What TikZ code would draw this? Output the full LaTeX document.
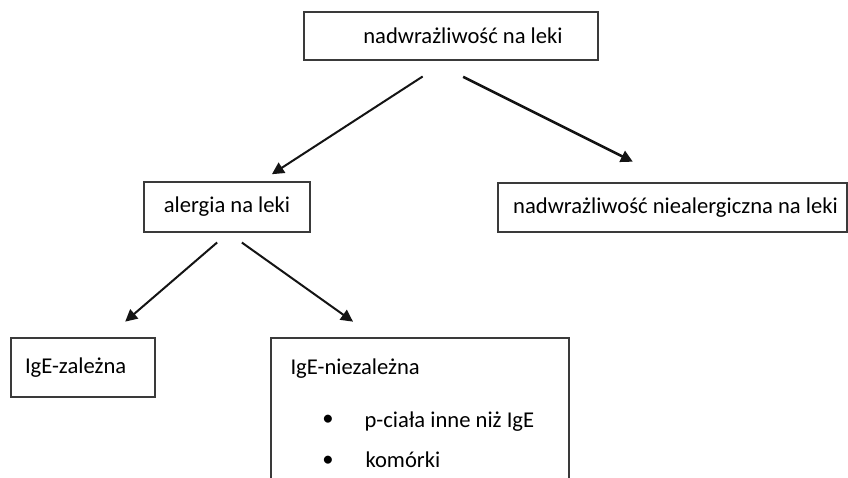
\documentclass[tikz,border=0pt]{standalone}
\usepackage{fontspec}
\setmainfont{Carlito}
\usepackage{tikz}
\usetikzlibrary{arrows.meta, positioning}
\definecolor{ink}{HTML}{141414}
\definecolor{frame}{HTML}{3A3A3A}

\begin{document}
\begin{tikzpicture}[x=1pt, y=1pt, font=\fontsize{22.6}{26}\selectfont, >={Triangle[length=12pt, width=12pt]},
  box/.style={draw=frame, line width=1.4pt, inner sep=0pt},
  link/.style={->, line width=2pt, color=ink}]
\clip (0,0) rectangle (848,477);
% —— poziom 1 ——
\node[box, minimum width=294pt, minimum height=48pt] (nadw) at (451,441){\hspace*{24pt}nadwrażliwość na leki};
% —— poziom 2 ——
\node[box, minimum width=166pt, minimum height=50pt] (alg) at (227,270){alergia na leki};
\node[box, minimum width=349pt, minimum height=49pt] (nonall) at (672.5,269.5){\hspace*{6pt}nadwrażliwość niealergiczna na leki};
% —— poziom 3 ——
\node[box, text width=116pt, inner xsep=14pt, minimum height=59pt, align=left] (zal) at (83,109.5){IgE-zależna};
\node[box, minimum width=298pt, minimum height=169pt] (niez) at (420,54.5){};
\node[anchor=base west] (niezhead) at (287,103){IgE-niezależna};
\node (dot1) at (328,57){•};
\node[anchor=base west] (pciala) at (361,50){p-ciała inne niż IgE};
\node (dot2) at (328,16){•};
\node[anchor=base west] (kom) at (362,10){komórki};
% —— strzałki ——
\draw[link, shorten <=29pt, shorten >=13pt] ([xshift=-4pt]nadw.south) -- ([xshift=34pt]alg.north);
\draw[link, line width=2.6pt, shorten <=36pt, shorten >=46pt] ([xshift=-20pt]nadw.south) -- ([xshift=1.5pt]nonall.north);
\draw[link, shorten <=15pt, shorten >=24pt] ([xshift=1.5pt]alg.south) -- ([xshift=24pt]zal.north);
\draw[link, shorten <=17pt, shorten >=27pt] ([xshift=1pt]alg.south) -- ([xshift=-45pt]niez.north);
\end{tikzpicture}
\end{document}
